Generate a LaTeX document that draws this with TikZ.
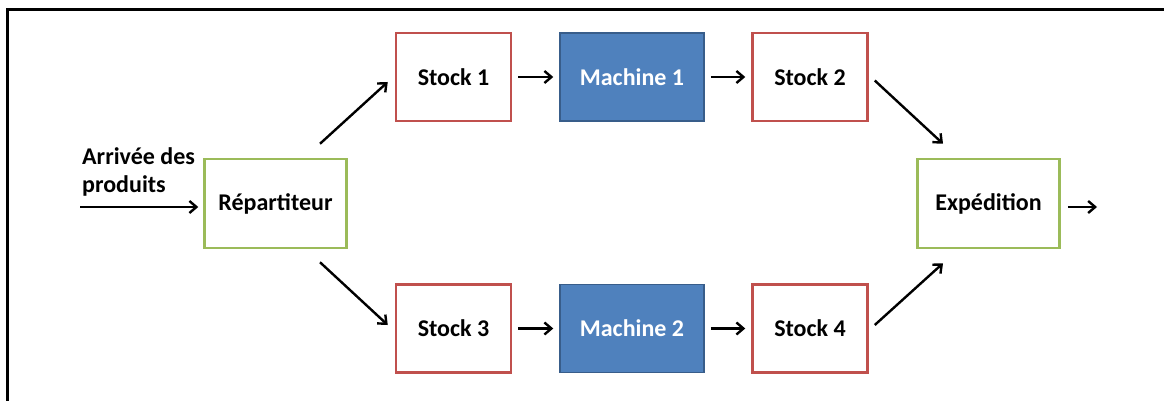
\documentclass[tikz,border=0pt]{standalone}
\usepackage{fontspec}
\setmainfont{Carlito}
\usetikzlibrary{arrows.meta}
\definecolor{stockred}{HTML}{C0504D}
\definecolor{repgreen}{HTML}{9BBB59}
\definecolor{machblue}{HTML}{4F81BD}
\definecolor{machedge}{HTML}{385D8A}
\tikzset{
  stockbox/.style={draw=stockred, line width=2.5pt, minimum width=115pt, minimum height=88pt, inner sep=0pt},
  machbox/.style={draw=machedge, fill=machblue, text=white, line width=1.5pt, minimum width=144pt, minimum height=88pt, inner sep=0pt},
  endbox/.style={draw=repgreen, line width=2.5pt, minimum width=142pt, minimum height=89pt, inner sep=0pt},
  flow/.style={line width=2.4pt, -{Straight Barb[length=7pt,width=12pt,line width=2.4pt]}}
}
\begin{document}
\begin{tikzpicture}[x=1pt, y=-1pt, font=\fontsize{24}{28}\selectfont\bfseries]
		%%%%% START %%%%%
		\useasboundingbox (0,0) rectangle (1164,401);
		\draw[line width=3pt] (7,401) -- (7,10) -- (1164,10);
		
		\node[endbox] (rep) at (275.5,203.5) {Répartiteur};
		\node[endbox] (exp) at (988.5,203.5) {Expédition};
		
		\node[stockbox] (s1) at (453.5,77) {Stock 1};
		\node[machbox] (m1) at (632,77) {Machine 1};
		\node[stockbox] (s2) at (810,77) {Stock 2};
		
		\node[stockbox] (s3) at (453.5,328.5) {Stock 3};
		\node[machbox] (m2) at (632,328.5) {Machine 2};
		\node[stockbox] (s4) at (810,328.5) {Stock 4};
		
		\coordinate (in) at (80,207);
		\coordinate (out) at (1097,207);
		\node[anchor=south west, align=left, inner sep=0pt] (arr) at (82,196) {Arrivée des\\produits};
		
		\draw[flow, shorten >=5pt] (in) -- (in -| rep.west);
		\draw[flow, shorten <=7pt] (out -| exp.east) -- (out);
		
		\draw[flow, shorten <=6pt, shorten >=6pt] (s1.east) -- (m1.west);
		\draw[flow, shorten <=6pt, shorten >=6pt] (m1.east) -- (s2.west);
		\draw[flow, shorten <=6pt, shorten >=6pt] (s3.east) -- (m2.west);
		\draw[flow, shorten <=6pt, shorten >=6pt] (m2.east) -- (s4.west);
		
		\draw[flow] ([xshift=44.5pt,yshift=14pt]rep.north) -- ([xshift=-7pt,yshift=-5pt]s1.west);
		\draw[flow] ([xshift=44.5pt,yshift=-13pt]rep.south) -- ([xshift=-7pt,yshift=3.5pt]s3.west);
		\draw[flow] ([xshift=6pt,yshift=-3.5pt]s2.east) -- ([xshift=-45.5pt,yshift=14pt]exp.north);
		\draw[flow] ([xshift=6pt,yshift=3.5pt]s4.east) -- ([xshift=-45.5pt,yshift=-14pt]exp.south);
		%%%%% END %%%%%
\end{tikzpicture}
\end{document}
